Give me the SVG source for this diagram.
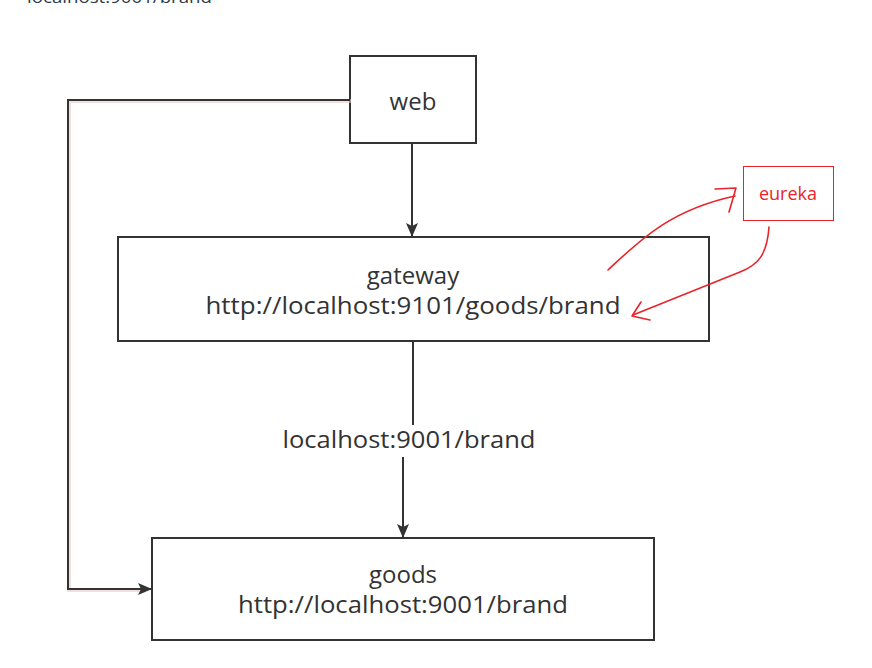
<svg xmlns="http://www.w3.org/2000/svg" width="872" height="668" viewBox="0 0 872 668">
<style>
.box{fill:#fff;stroke:#333;stroke-width:2}
.t{font-family:"Open Sans","Liberation Sans",sans-serif;font-size:24px;fill:#333;text-anchor:middle}
.ln{fill:none;stroke:#333;stroke-width:2}
.red{fill:none;stroke:#e8242a;stroke-width:1.6;stroke-linecap:round;stroke-linejoin:round}
</style>
<defs>
<marker id="ah" markerWidth="14" markerHeight="12" refX="13" refY="6" orient="auto" markerUnits="userSpaceOnUse">
<path d="M0,0 L14,6 L0,12 L3,6 Z" fill="#333"/>
</marker>
</defs>
<rect width="872" height="668" fill="#fff"/>
<text x="27" y="3" font-family="Open Sans, Liberation Sans, sans-serif" font-size="17" fill="#2b3a4a" textLength="185" lengthAdjust="spacingAndGlyphs">localhost:9001/brand</text>
<g id="web">
<rect class="box" x="350" y="56" width="126" height="87"/>
<text class="t" x="413" y="110">web</text>
</g>
<g id="gateway">
<rect class="box" x="118" y="237" width="591" height="104"/>
<text class="t" x="413" y="284" font-size="25">gateway</text>
<text class="t" x="413" y="314" textLength="415" lengthAdjust="spacingAndGlyphs">http://localhost:9101/goods/brand</text>
</g>
<g id="goods">
<rect class="box" x="152" y="538" width="502" height="102"/>
<text class="t" x="403" y="583" font-size="25">goods</text>
<text class="t" x="403" y="613" textLength="330" lengthAdjust="spacingAndGlyphs">http://localhost:9001/brand</text>
</g>
<g id="eureka">
<rect x="743.5" y="166.5" width="90" height="54" fill="#fff" stroke="#e8242a" stroke-width="1"/>
<text x="788" y="200" font-family="Open Sans, Liberation Sans, sans-serif" font-size="18" fill="#e8242a" text-anchor="middle">eureka</text>
</g>
<g id="connectors">
<line class="ln" x1="412" y1="143" x2="412" y2="236" marker-end="url(#ah)"/>
<path class="ln" d="M413,341 V425"/>
<line class="ln" x1="403" y1="457" x2="403" y2="537" marker-end="url(#ah)"/>
<path d="M350,100 H68 V589 H140" fill="none" stroke="#e8c8c8" stroke-width="4" opacity="0.6" transform="translate(1,1)"/>
<path class="ln" d="M350,100 H68 V589 H151" stroke-width="3" marker-end="url(#ah)"/>
<text class="t" x="409" y="448" textLength="253" lengthAdjust="spacingAndGlyphs">localhost:9001/brand</text>
<path class="red" d="M608,270 C640,240 670,210 735,196"/>
<path class="red" d="M715,189 L736,188 L729,212"/>
<path class="red" d="M769,227 C767,255 758,265 740,272 L633,315"/>
<path class="red" d="M641,302 L632,316 L650,320"/>
</g>
</svg>
